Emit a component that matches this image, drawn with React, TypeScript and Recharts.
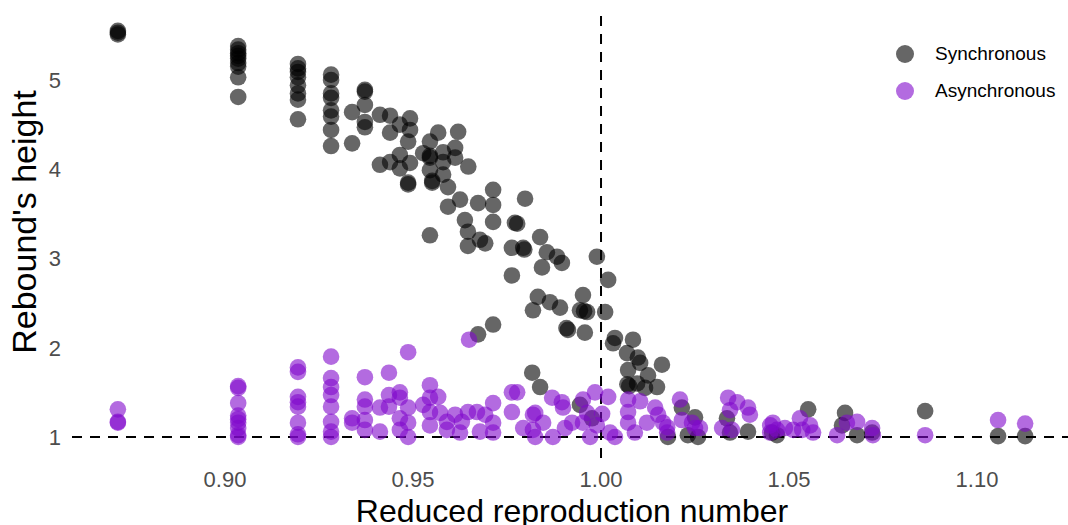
import { ScatterChart, Scatter, XAxis, YAxis, ReferenceLine } from "recharts"

// reduced reproduction number, rebound height
const synchronous: [number, number][] = [
  [0.8715, 5.55], [0.8715, 5.53], [0.8715, 5.51],
  [0.9035, 5.38], [0.9035, 5.34], [0.9035, 5.3], [0.9035, 5.27], [0.9035, 5.24], [0.9035, 5.19], [0.9035, 5.15], [0.9035, 5.03], [0.9035, 4.81],
  [0.9194, 5.18], [0.9194, 5.13], [0.9194, 5.09], [0.9194, 5.03], [0.9194, 4.94], [0.9194, 4.85], [0.9194, 4.78], [0.9194, 4.56],
  [0.9282, 5.06], [0.9282, 5.0], [0.9282, 4.85], [0.9282, 4.8], [0.9282, 4.66], [0.9282, 4.59], [0.9282, 4.44], [0.9282, 4.26],
  [0.9372, 4.89], [0.9372, 4.87], [0.9372, 4.72], [0.9372, 4.53], [0.9372, 4.47],
  [0.9338, 4.64], [0.9338, 4.29],
  [0.9412, 4.61], [0.9439, 4.6], [0.9465, 4.5], [0.9492, 4.57], [0.9492, 4.44], [0.9487, 4.31], [0.9439, 4.41], [0.9465, 4.16],
  [0.9412, 4.05], [0.9439, 4.08], [0.9492, 4.07], [0.9465, 4.01], [0.9487, 3.85], [0.9487, 3.83],
  [0.9545, 4.31], [0.9567, 4.41], [0.962, 4.42], [0.9527, 4.18], [0.9545, 4.15], [0.9545, 4.13], [0.958, 4.19], [0.9612, 4.24],
  [0.9612, 4.13], [0.958, 4.08], [0.9647, 4.03], [0.9545, 3.99], [0.958, 3.94], [0.9551, 3.87], [0.9551, 3.85], [0.9593, 3.8],
  [0.9713, 3.77], [0.9713, 3.6], [0.9673, 3.62], [0.9625, 3.66], [0.9593, 3.58], [0.9638, 3.43], [0.9713, 3.41], [0.9771, 3.4],
  [0.9646, 3.3], [0.9545, 3.26], [0.9678, 3.21], [0.9692, 3.17], [0.9646, 3.14],
  [0.9798, 3.67], [0.9777, 3.39], [0.9763, 3.12], [0.9793, 3.12], [0.9796, 3.1], [0.9838, 3.24], [0.9856, 3.07], [0.9883, 3.02],
  [0.9896, 2.95], [0.9843, 2.9], [0.9763, 2.81],
  [0.9989, 3.02], [1.0019, 2.76],
  [0.9832, 2.57], [0.9819, 2.42], [0.9864, 2.51], [0.9891, 2.45], [0.9952, 2.59], [0.9944, 2.42], [0.9955, 2.41], [0.9963, 2.4], [1.0011, 2.4],
  [0.9713, 2.26], [0.9673, 2.15], [0.9908, 2.22], [0.9912, 2.2], [0.9957, 2.17],
  [1.0037, 2.11], [1.0032, 2.05], [1.0085, 2.09], [1.0069, 1.94], [1.0098, 1.89], [1.0104, 1.83], [1.0072, 1.75], [1.007, 1.59],
  [1.0075, 1.57], [1.0096, 1.6], [1.0125, 1.69], [1.0162, 1.81], [1.0149, 1.56], [1.0117, 1.55],
  [0.9817, 1.72], [0.9838, 1.56], [0.9944, 1.36], [0.9976, 1.21],
  [1.0178, 1.0], [1.0215, 1.33], [1.025, 1.22], [1.0231, 1.02], [1.0258, 1.0], [1.0335, 1.21], [1.0343, 1.05], [1.0391, 1.06],
  [1.0455, 1.05], [1.0551, 1.31], [1.0468, 1.02], [1.0641, 1.13], [1.0649, 1.27], [1.0681, 1.02], [1.0721, 1.05], [1.0862, 1.29],
  [1.1056, 1.01], [1.1128, 1.01],
]

const asynchronous: [number, number][] = [
  [0.8715, 1.31], [0.8715, 1.17], [0.8715, 1.16],
  [0.9035, 1.57], [0.9035, 1.55], [0.9035, 1.38], [0.9035, 1.24], [0.9035, 1.2], [0.9035, 1.16], [0.9035, 1.1], [0.9035, 1.02], [0.9035, 1.0],
  [0.9194, 1.78], [0.9194, 1.73], [0.9194, 1.45], [0.9194, 1.39], [0.9194, 1.34], [0.9194, 1.16], [0.9194, 1.03], [0.9194, 1.0],
  [0.9282, 1.9], [0.9282, 1.66], [0.9282, 1.56], [0.9282, 1.47], [0.9282, 1.34], [0.9282, 1.17], [0.9282, 1.06], [0.9282, 1.0],
  [0.9338, 1.21], [0.9338, 1.16],
  [0.9372, 1.67], [0.9372, 1.42], [0.9372, 1.34], [0.9372, 1.19], [0.9372, 1.08],
  [0.9412, 1.33], [0.9412, 1.06],
  [0.9436, 1.72], [0.9436, 1.47], [0.9436, 1.34],
  [0.9465, 1.5], [0.9465, 1.44], [0.9465, 1.21], [0.9465, 1.08],
  [0.9487, 1.95], [0.9487, 1.33], [0.9487, 1.16], [0.9487, 1.0],
  [0.9527, 1.36], [0.9545, 1.58], [0.9545, 1.44], [0.9545, 1.28], [0.9545, 1.13], [0.9567, 1.45], [0.9572, 1.27], [0.959, 1.17], [0.959, 1.08],
  [0.9612, 1.25], [0.963, 1.17], [0.9625, 1.05], [0.9646, 1.28], [0.967, 1.28], [0.9692, 1.25], [0.9678, 1.06],
  [0.9713, 1.38], [0.9713, 1.16], [0.9713, 1.05],
  [0.9649, 2.09],
  [0.9763, 1.5], [0.9777, 1.5], [0.9763, 1.28], [0.9793, 1.1], [0.9819, 1.08], [0.9819, 1.25],
  [0.987, 1.44], [0.9896, 1.39], [0.9899, 1.33], [0.9825, 1.27], [0.9846, 1.16], [0.9825, 1.0], [0.9872, 1.0], [0.9904, 1.1],
  [0.9923, 1.16], [0.9952, 1.42], [0.9984, 1.5], [1.0019, 1.45], [0.9963, 1.27], [1.0003, 1.26], [0.9952, 1.16], [0.9989, 1.13],
  [0.9971, 1.0], [1.0024, 1.05], [1.0037, 1.0],
  [1.0072, 1.42], [1.0072, 1.28], [1.0104, 1.4], [1.0072, 1.16], [1.009, 1.05], [1.0122, 1.16], [1.0144, 1.33], [1.0152, 1.25],
  [1.0165, 1.16], [1.0176, 1.11], [1.0176, 1.05], [1.021, 1.42], [1.0215, 1.19], [1.0242, 1.16], [1.025, 1.1], [1.0263, 1.1],
  [1.0338, 1.44], [1.0362, 1.39], [1.0343, 1.3], [1.0391, 1.33], [1.0396, 1.25], [1.0322, 1.1], [1.0348, 1.08], [1.045, 1.13], [1.045, 1.05],
  [1.0457, 1.16], [1.0468, 1.08], [1.0489, 1.1], [1.0511, 1.08], [1.0529, 1.21], [1.0535, 1.08], [1.0556, 1.13], [1.0564, 1.05],
  [1.0628, 1.02], [1.0654, 1.16], [1.0681, 1.17], [1.0721, 1.1], [1.0723, 1.02], [1.0862, 1.02], [1.1056, 1.19], [1.1128, 1.15],
]

const xTicks = [0.9, 0.95, 1.0, 1.05, 1.1]
const yTicks = [1, 2, 3, 4, 5]

const FONT = "'Liberation Sans', Arial, Helvetica, sans-serif"
const series = [
  { name: "Synchronous", fill: "#000000", key: "#666666", points: synchronous },
  { name: "Asynchronous", fill: "#8008CB", key: "#b36be0", points: asynchronous },
]

const dot = (fill: string) => (p: any) =>
  <circle cx={p.cx} cy={p.cy} r={8.3} fill={fill} fillOpacity={0.6} />

// legend drawn as an overlay so it doesn't eat into the plot area
function LegendBox() {
  return (
    <div style={{ position: "absolute", left: 896, top: 35, fontFamily: FONT, fontSize: 19, color: "#000" }}>
      {series.map((s) => (
        <div key={s.name} style={{ display: "flex", alignItems: "center", height: 37 }}>
          <span style={{ width: 18, height: 18, borderRadius: 9, background: s.key, marginRight: 21 }} />
          <span>{s.name}</span>
        </div>
      ))}
    </div>
  )
}

export default function App() {
  return (
    <div style={{ position: "absolute", left: 0, top: 0, width: 1068, height: 525, background: "#fff" }}>
      <ScatterChart width={1068} height={525} margin={{ top: 10, right: 0, bottom: 0, left: 0 }}>
        <XAxis
          type="number"
          dataKey="r"
          domain={[0.8593, 1.1242]}
          ticks={xTicks}
          tickFormatter={(v) => v.toFixed(2)}
          allowDataOverflow
          height={67}
          axisLine={false}
          tickLine={false}
          tickMargin={7}
          tick={{ fontSize: 22, fill: "#4d4d4d", fontFamily: FONT }}
          label={{
            content: () => (
              <text x={572} y={522} textAnchor="middle" fontSize={32} fill="#000" fontFamily={FONT}>
                Reduced reproduction number
              </text>
            ),
          }}
        />
        <YAxis
          type="number"
          dataKey="h"
          domain={[0.7647, 5.7843]}
          ticks={yTicks}
          allowDataOverflow
          width={72}
          axisLine={false}
          tickLine={false}
          tickMargin={5}
          tick={{ fontSize: 22, fill: "#4d4d4d", fontFamily: FONT }}
          label={{
            content: () => (
              <text x={36} y={222} transform="rotate(-90 36 222)" textAnchor="middle" fontSize={34} fill="#000" fontFamily={FONT}>
                Rebound's height
              </text>
            ),
          }}
        />
        {series.map((s) => (
          <Scatter
            key={s.name}
            name={s.name}
            data={s.points.map(([r, h]) => ({ r, h }))}
            fill={s.key}
            shape={dot(s.fill)}
            isAnimationActive={false}
          />
        ))}
        <ReferenceLine x={1} stroke="#000" strokeWidth={2} strokeDasharray="10 8" />
        <ReferenceLine y={1} stroke="#000" strokeWidth={2} strokeDasharray="10 8" />
      </ScatterChart>
      <LegendBox />
    </div>
  )
}
